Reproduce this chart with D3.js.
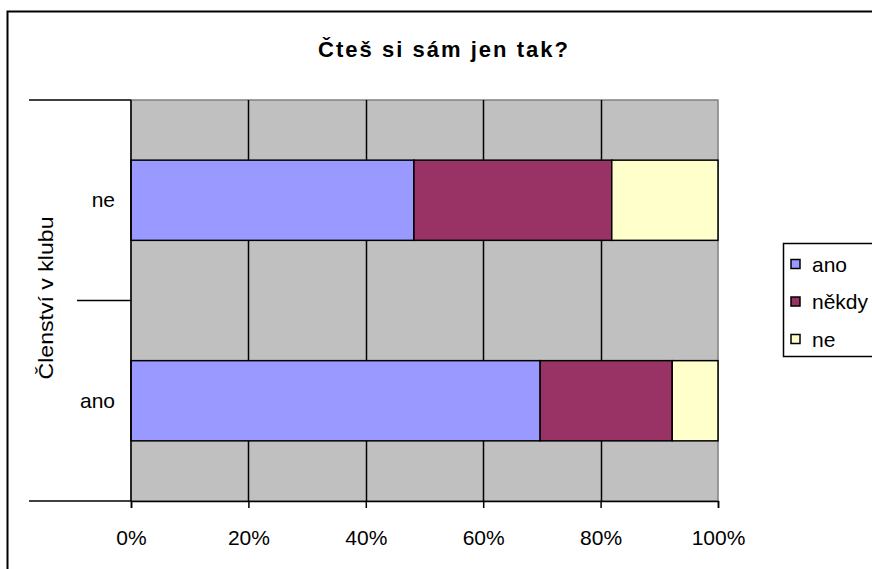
<!DOCTYPE html>
<html>
<head>
<meta charset="utf-8">
<script src="https://cdn.jsdelivr.net/npm/d3@7"></script>
<style>
  body { margin: 0; background: #fff; }
  text { font-family: "Liberation Sans", Arial, sans-serif; fill: #000; }
</style>
</head>
<body>
<script>
//chart data
var categories = ["ne", "ano"];
var seriesNames = ["ano", "někdy", "ne"];
var seriesColors = ["#9999FF", "#993366", "#FFFFCC"];
var valuesAno = [0.482, 0.697];     //share "ano" per category
var valuesNekdy = [0.337, 0.225];   //share "někdy"
var valuesNe = [0.181, 0.078];      //share "ne"
var xTicks = [0, 0.2, 0.4, 0.6, 0.8, 1];

var width = 872,
    height = 569;

var svg = d3.select("body")
    .append("svg")
    .attr("width", width)
    .attr("height", height);

//outer chart frame (cut off on right and bottom)
svg.append("rect")
    .attr("x", 7.5).attr("y", 11.5)
    .attr("width", 880).attr("height", 580)
    .attr("fill", "#fff")
    .attr("stroke", "#000")
    .attr("stroke-width", 2);

var plot = {left: 131, right: 718, top: 100, bottom: 501};

var x = d3.scaleLinear()
    .domain([0, 1])
    .range([plot.left, plot.right]);

var y = d3.scaleBand()
    .domain(categories)
    .range([plot.top, plot.bottom])
    .paddingInner(0.6)
    .paddingOuter(0.3);

//plot background
svg.append("rect")
    .attr("x", plot.left).attr("y", plot.top)
    .attr("width", plot.right - plot.left)
    .attr("height", plot.bottom - plot.top)
    .attr("fill", "#C0C0C0")
    .attr("stroke", "#808080")
    .attr("stroke-width", 1.5);

//vertical gridlines
svg.selectAll(".grid")
    .data(xTicks.slice(1, -1))
    .enter()
    .append("line")
    .attr("class", "grid")
    .attr("x1", function(d){ return Math.round(x(d)) + 0.5; })
    .attr("x2", function(d){ return Math.round(x(d)) + 0.5; })
    .attr("y1", plot.top).attr("y2", plot.bottom)
    .attr("stroke", "#000")
    .attr("stroke-width", 1.5);

//stack the series
var rows = categories.map(function(c, i){
    return {cat: c, "ano": valuesAno[i], "někdy": valuesNekdy[i], "ne": valuesNe[i]};
});
var stacked = d3.stack().keys(seriesNames)(rows);

svg.selectAll(".series")
    .data(stacked)
    .enter()
    .append("g")
    .attr("class", "series")
    .attr("fill", function(d, i){ return seriesColors[i]; })
    .selectAll("rect")
    .data(function(d){ return d; })
    .enter()
    .append("rect")
    .attr("x", function(d){ return x(d[0]); })
    .attr("width", function(d){ return x(d[1]) - x(d[0]); })
    .attr("y", function(d){ return y(d.data.cat); })
    .attr("height", y.bandwidth())
    .attr("stroke", "#000")
    .attr("stroke-width", 1.5);

//left axis line and category separators
svg.append("line")
    .attr("x1", plot.left).attr("x2", plot.left)
    .attr("y1", plot.top).attr("y2", plot.bottom)
    .attr("stroke", "#000").attr("stroke-width", 1.5);

var seps = [
    {y: plot.top, x0: 29},
    {y: plot.top + (plot.bottom - plot.top) / 2, x0: 77},
    {y: plot.bottom, x0: 29}
];
svg.selectAll(".sep")
    .data(seps)
    .enter()
    .append("line")
    .attr("class", "sep")
    .attr("x1", function(d){ return d.x0; }).attr("x2", plot.left)
    .attr("y1", function(d){ return d.y; })
    .attr("y2", function(d){ return d.y; })
    .attr("stroke", "#000").attr("stroke-width", 1.5);

//bottom axis
var xAxis = d3.axisBottom(x)
    .tickValues(xTicks)
    .tickFormat(d3.format(".0%"))
    .tickSize(7)
    .tickPadding(22);

var gx = svg.append("g")
    .attr("transform", "translate(0," + plot.bottom + ")")
    .call(xAxis);
gx.select(".domain").attr("stroke", "#000").attr("stroke-width", 1.5);
gx.selectAll(".tick line").attr("stroke", "#000").attr("stroke-width", 1.5);
gx.selectAll("text")
    .attr("font-size", "21px")
    .attr("font-family", "Liberation Sans, Arial, sans-serif")
    .attr("fill", "#000");

//category labels
svg.selectAll(".catLabel")
    .data(categories)
    .enter()
    .append("text")
    .attr("class", "catLabel")
    .attr("x", 115)
    .attr("y", function(d){ return y(d) + y.bandwidth() / 2 + 7; })
    .attr("text-anchor", "end")
    .attr("font-size", "21px")
    .text(function(d){ return d; });

//axis title
svg.append("text")
    .attr("transform", "translate(53,298) rotate(-90)")
    .attr("text-anchor", "middle")
    .attr("font-size", "21px")
    .attr("textLength", 163)
    .attr("lengthAdjust", "spacingAndGlyphs")
    .text("Členství v klubu");

//chart title
svg.append("text")
    .attr("x", 443).attr("y", 57)
    .attr("text-anchor", "middle")
    .attr("font-size", "22px")
    .attr("font-weight", "bold")
    .attr("textLength", 250)
    .attr("lengthAdjust", "spacing")
    .text("Čteš si sám jen tak?");

//legend
var legend = svg.append("g").attr("transform", "translate(783,243)");
legend.append("rect")
    .attr("x", 0.5).attr("y", 0.5)
    .attr("width", 100).attr("height", 113)
    .attr("fill", "#fff")
    .attr("stroke", "#000")
    .attr("stroke-width", 1.5);

var items = legend.selectAll(".item")
    .data(seriesNames)
    .enter()
    .append("g")
    .attr("class", "item")
    .attr("transform", function(d, i){ return "translate(8," + (21 + i * 37.5) + ")"; });

items.append("rect")
    .attr("x", 0).attr("y", -4.5)
    .attr("width", 9).attr("height", 9)
    .attr("fill", function(d, i){ return seriesColors[i]; })
    .attr("stroke", "#000")
    .attr("stroke-width", 1.5);

items.append("text")
    .attr("x", 21)
    .attr("y", 7.5)
    .attr("font-size", "21px")
    .text(function(d){ return d; });
</script>
</body>
</html>
